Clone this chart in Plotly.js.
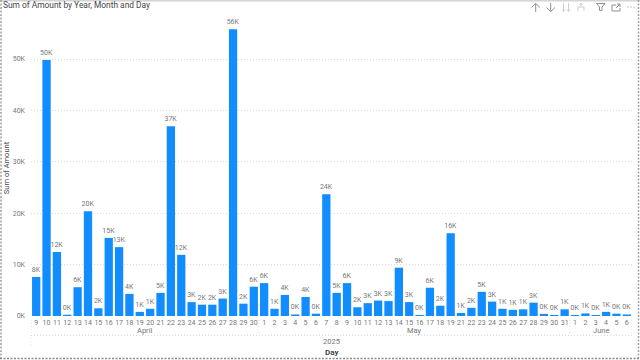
<!DOCTYPE html>
<html><head><meta charset="utf-8">
<script src="https://cdn.plot.ly/plotly-3.0.1.min.js"></script>
<style>html,body{margin:0;padding:0;background:#fff;overflow:hidden}</style>
</head><body><div id="c" style="width:640px;height:360px"></div>
<script>
const aprilDays=[9,10,11,12,13,14,15,16,17,18,19,20,21,22,23,24,25,26,27,28,29,30];
const mayDays=[1,2,3,4,5,6,7,8,9,10,11,12,13,14,15,16,17,18,19,21,22,23,24,25,26,27,28,29,30,31];
const juneDays=[1,2,3,4,5,6];
const aprilValues=[7600,49800,12450,250,5600,20400,1500,15200,13400,4300,800,1400,4500,36900,11900,2700,2200,2200,3400,55800,2400,5700];
const mayValues=[6400,1400,4100,300,3700,450,23700,4500,6400,1700,2500,3000,2900,9400,2700,200,5500,2000,16100,600,1600,4700,2800,1400,1200,1300,2600,400,200,1300];
const juneValues=[200,500,200,800,450,300];
const yTicks=[0,10000,20000,30000,40000,50000];
const yTickLabels=['0K','10K','20K','30K','40K','50K'];

const days=[...aprilDays,...mayDays,...juneDays];
const values=[...aprilValues,...mayValues,...juneValues];
const idx=days.map((d,i)=>i);
const labels=values.map(v=>Math.round(v/1000)+'K');
const nA=aprilDays.length,nM=mayDays.length,nJ=juneDays.length,n=days.length;
const font='Roboto, sans-serif';
const grey='#777777',sep='#dcdcdc',fine='1px,2px';
const H=360,T=20,B=44,PH=H-T-B;
const py=p=>(H-B-p)/PH;
const ppx=p=>(p-31)/601;
const vline=(x,y0,y1)=>({type:'line',xref:'x',yref:'paper',x0:x,x1:x,y0:py(y0),y1:py(y1),line:{color:sep,width:1,dash:fine}});
const border=(x0,y0,x1,y1,c,w,d)=>({type:'line',xref:'paper',yref:'paper',x0:ppx(x0),x1:ppx(x1),y0:py(y0),y1:py(y1),line:{color:c,width:w,dash:d}});
const icon=(pts,c)=>({type:'path',xref:'paper',yref:'paper',
  path:pts.map(s=>s.map((p,i)=>(i?'L':'M')+ppx(p[0])+','+py(p[1])).join(' ')).join(' '),
  line:{color:c,width:1},fillcolor:'rgba(0,0,0,0)'});
const dark='#909090',pale='#cfcfcf';
const shapes=[
  vline(-0.5,320,347),
  vline(nA-0.5,320,335),
  vline(nA+nM-0.5,320,335),
  vline(n-0.5,320,335),
  {type:'line',xref:'x',yref:'paper',x0:-0.5,x1:n-0.5,y0:py(335.5),y1:py(335.5),line:{color:sep,width:1,dash:fine}},
  border(0,0.5,640,0.5,'#d4d4d4',2,'solid'),
  border(1,0,1,358,'#a0a0a0',1.5,'2px,1.5px'),
  border(638.5,0,638.5,358,'#a0a0a0',1.5,'2px,1.5px'),
  border(0,358.5,640,358.5,'#8a8a8a',1.5,'2px,1.5px'),
  icon([[[535.7,12],[535.7,3.5]],[[531.5,7.5],[535.7,3.5],[539.9,7.5]]],dark),
  icon([[[550.7,3],[550.7,11.5]],[[546.5,7.5],[550.7,11.5],[554.9,7.5]]],dark),
  icon([[[563.5,3],[563.5,11.5]],[[568.5,3],[568.5,11.5]],[[562,9.5],[563.5,11.5],[565,9.5]],[[567,9.5],[568.5,11.5],[570,9.5]]],pale),
  icon([[[581,3],[581,7]],[[578,11],[578,7],[584,7],[584,11]],[[579.5,5],[581,3],[582.5,5]]],pale),
  icon([[[596.5,3.5],[605,3.5],[602,7],[602,10.5],[599.5,10.5],[599.5,7],[596.5,3.5]]],dark),
  icon([[[616,5],[612,5],[612,11],[620,11],[620,8]],[[616,8],[620,4]],[[617,4],[620,4],[620,7]]],dark),
  icon([[[627.5,7],[628.5,7]],[[630.5,7],[631.5,7]],[[633.5,7],[634.5,7]]],dark)
];
const lab=(text,x,y,size,color)=>({text:text,xref:'x',yref:'paper',x:x,y:py(y),showarrow:false,font:{family:font,size:size,color:color},xanchor:'center',yanchor:'middle'});
const annotations=[
  lab('April',(nA-1)/2,330.5,7.5,grey),
  lab('May',nA+(nM-1)/2,330.5,7.5,grey),
  lab('June',nA+nM+(nJ-1)/2,330.5,7.5,grey),
  lab('2025',(n-1)/2,341.5,7.5,grey),
  lab('<b>Day</b>',(n-1)/2,352,8,'#444444')
];
Plotly.newPlot('c',[{
  type:'bar',x:idx,y:values,marker:{color:'#118DFF',line:{width:0}},
  text:labels,textposition:'outside',cliponaxis:false,constraintext:'none',
  textfont:{family:font,size:7,color:grey},hoverinfo:'skip'
}],{
  width:640,height:360,paper_bgcolor:'#fff',plot_bgcolor:'#fff',showlegend:false,
  margin:{l:31,r:8,t:T,b:B,pad:0},bargap:0.2,
  title:{text:'Sum of Amount by Year, Month and Day',x:3/640,xanchor:'left',xref:'container',y:1-5.5/360,yanchor:'middle',font:{family:font,size:8.4,color:'#444444'}},
  xaxis:{type:'linear',range:[-0.5,n-0.5],tickmode:'array',tickvals:idx,ticktext:days.map(String),tickangle:0,showgrid:false,zeroline:false,showline:false,ticks:'',ticklen:0,ticklabelstandoff:1,tickfont:{family:font,size:7,color:grey},automargin:false},
  yaxis:{range:[0,57590],tickmode:'array',tickvals:yTicks,ticktext:yTickLabels,showgrid:true,gridcolor:'#dcdcdc',griddash:fine,gridwidth:1,zeroline:false,showline:false,ticklabelstandoff:5,tickfont:{family:font,size:7,color:grey},automargin:false,title:{text:'Sum of Amount',standoff:2,font:{family:font,size:7.5,color:'#444444'}}},
  shapes:shapes,annotations:annotations
},{displayModeBar:false,staticPlot:true});
</script></body></html>
